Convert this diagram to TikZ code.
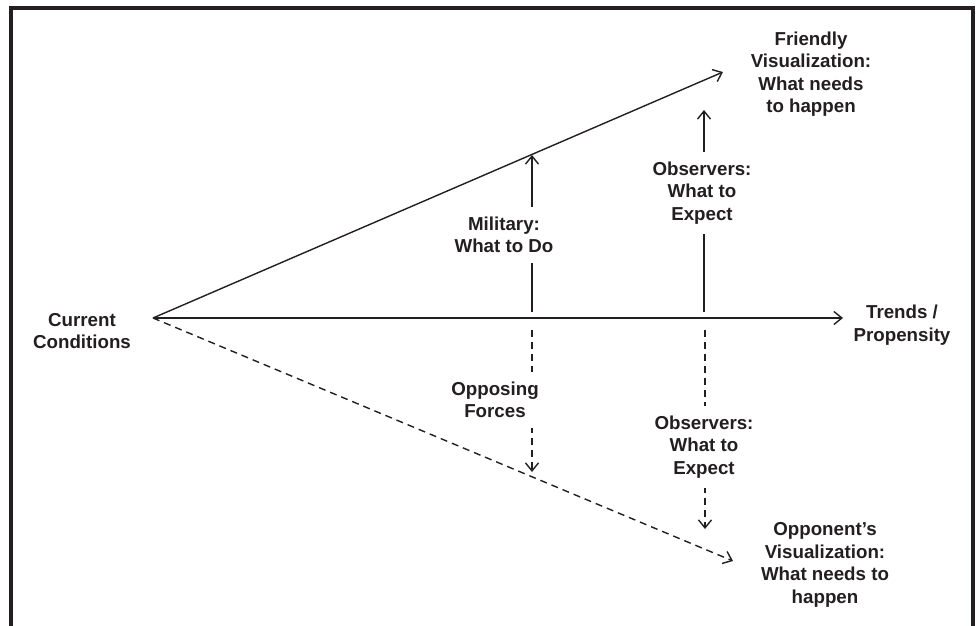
\documentclass[tikz,border=0pt]{standalone}
\usepackage{fontspec}
\setmainfont{Liberation Sans}
\usepackage{xcolor}
\usetikzlibrary{arrows.meta, positioning}
\definecolor{ink}{RGB}{35,31,32}

\begin{document}
\begin{tikzpicture}[x=1bp, y=-1bp,
  lbl/.style={font=\bfseries\fontsize{18.8}{22.5}\selectfont, align=center, text=ink, inner sep=2bp},
  gap/.style={lbl, fill=white, inner ysep=10bp},
  arr/.style={-{Straight Barb[length=8bp,width=13bp]}, line width=1.4bp, draw=ink},
  dsh/.style={arr, dash pattern=on 7bp off 5bp}]
\useasboundingbox (0,0) rectangle (977,626);
\draw[line width=3.2bp, ink] (11,626) -- (11,8) -- (973,8) -- (973,626);

\node[lbl] (Cur) at (82,331) {Current\\Conditions};
\node[lbl] (Trend) at (902,325) {Trends /\\Propensity};
\node[lbl] (Friend) at (811,74) {Friendly\\Visualization:\\What needs\\to happen};
\node[lbl] (Opp) at (825,565) {Opponent’s\\Visualization:\\What needs to\\happen};

\coordinate (O) at (153,318);
\coordinate (F) at (723,72);
\coordinate (T) at (843,318);
\coordinate (P) at (733,561);
\draw[arr] (O) -- (F);
\draw[arr] (O) -- (T);
\draw[dsh] (O) -- (P);

\coordinate (m0) at (532,312); \coordinate (m1) at (532,155);
\coordinate (o0) at (704,312); \coordinate (o1) at (704,110);
\coordinate (f0) at (532,330); \coordinate (f1) at (532,472);
\coordinate (q0) at (705,330); \coordinate (q1) at (705,529);
\draw[arr] (m0) -- (m1);
\draw[arr] (o0) -- (o1);
\draw[dsh] (f0) -- (f1);
\draw[dsh] (q0) -- (q1);

\node[gap] (Mil) at (504,235) {Military:\\What to Do};
\node[gap] (ObsU) at (702,193) {Observers:\\What to\\Expect};
\node[gap] (OppF) at (495,400) {Opposing\\Forces};
\node[gap] (ObsL) at (704,447) {Observers:\\What to\\Expect};
\end{tikzpicture}
\end{document}
